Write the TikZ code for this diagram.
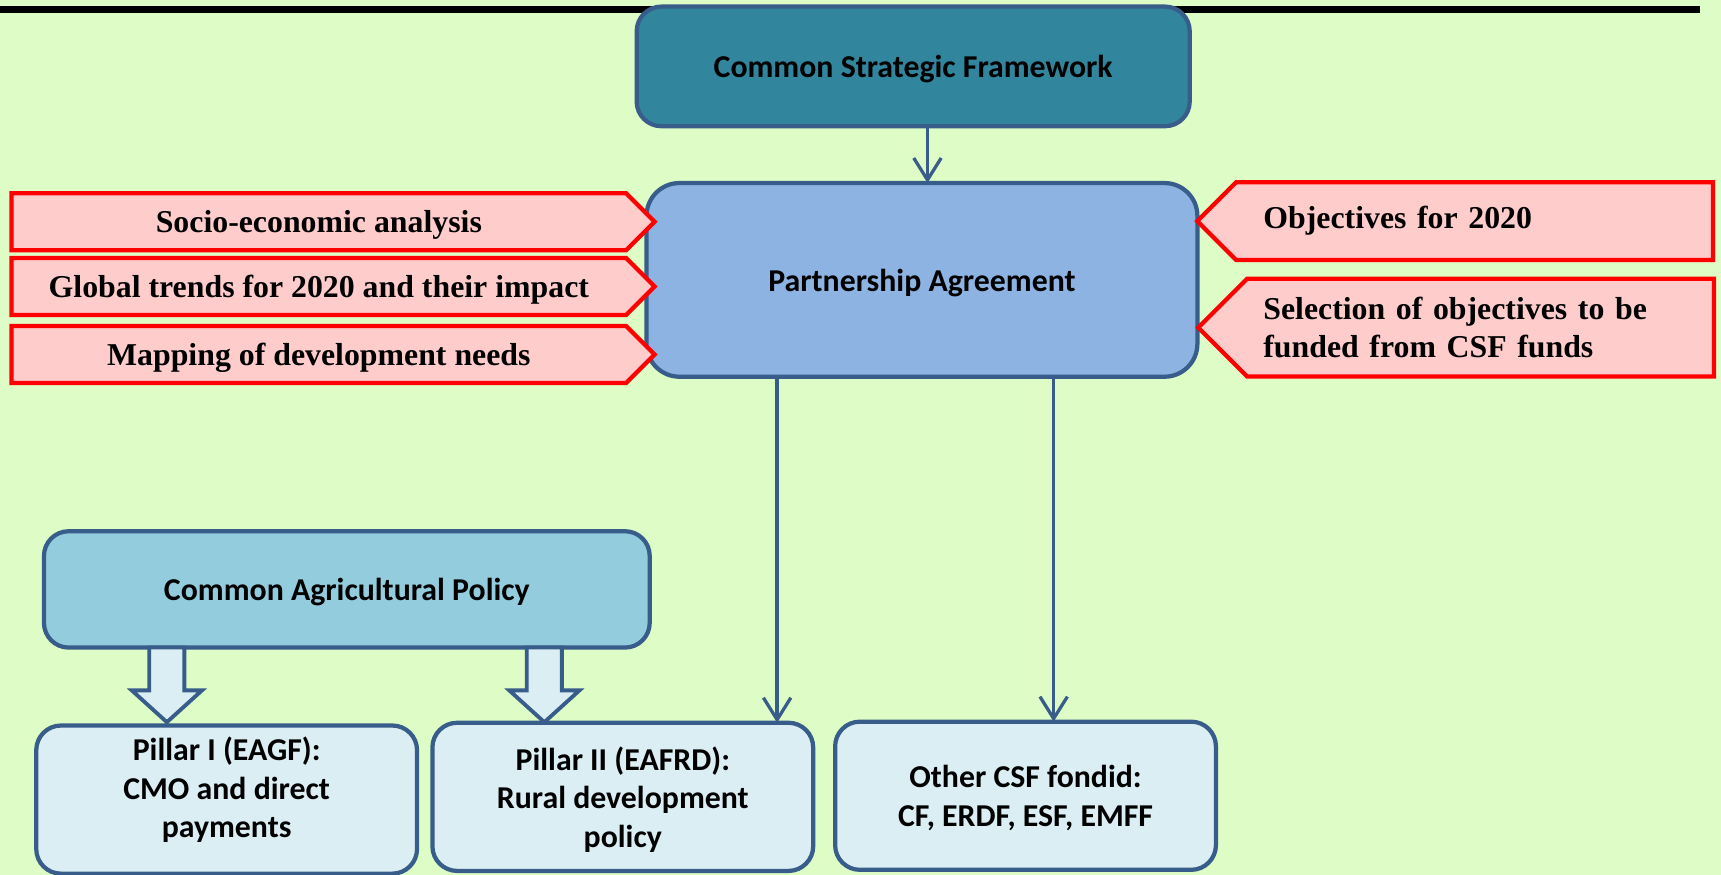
\documentclass[tikz,border=0pt]{standalone}
\usepackage{fontspec}
\setmainfont{Liberation Serif}
\newfontfamily\calfont{Carlito}
\usetikzlibrary{positioning,shapes.symbols,arrows.meta,calc}

\definecolor{bgGreen}{RGB}{222,253,198}
\definecolor{boxBlue}{RGB}{56,93,138}
\definecolor{csfTeal}{RGB}{49,133,156}
\definecolor{paBlue}{RGB}{141,179,226}
\definecolor{capBlue}{RGB}{147,205,221}
\definecolor{pillarBlue}{RGB}{219,238,244}
\definecolor{pinkFill}{RGB}{255,204,204}

\begin{document}
\begin{tikzpicture}[
    x=0.02cm, y=-0.02cm,
    box/.style={draw=boxBlue, line width=2.2pt, rounded corners=0.45cm, outer sep=0pt, text depth=0pt,
        align=center, font=\calfont\bfseries\fontsize{16.5}{20}\selectfont},
    pillar/.style={box, fill=pillarBlue, minimum width=6.94cm, minimum height=2.7cm},
    pinkbase/.style={draw=red, fill=pinkFill, line width=2.2pt, shape=signal,
        signal pointer angle=90, outer sep=0pt, minimum height=1.04cm,
        font=\bfseries\fontsize{16.5}{20}\selectfont},
    pinkleft/.style={pinkbase, signal to=east, text depth=0pt},
    pinkright/.style={pinkbase, signal to=west, align=left},
    arrow/.style={-{Straight Barb[length=0.4cm,width=0.5cm]}, line width=1.7pt, draw=boxBlue},
    fatarrow/.style={draw=boxBlue, fill=pillarBlue, line width=2pt, line join=miter}
]
    % Background and top rule
    \fill[bgGreen] (0,0) rectangle (1568,797);
    \useasboundingbox (0,0) rectangle (1568,797);
    \draw[line width=3.7pt] (0,9) -- (1549,9);

    % Blocks
    \node[box, fill=csfTeal, minimum width=10.08cm, minimum height=2.18cm] (csf) at (832,60.5) {Common Strategic Framework};
    \node[box, fill=paBlue, rounded corners=0.6cm, minimum width=10.04cm, minimum height=3.53cm] (pa) at (840,255) {Partnership Agreement};
    \node[box, fill=capBlue, minimum width=11.04cm, minimum height=2.12cm] (cap) at (316,537) {Common Agricultural Policy};
    \node[pillar, text depth=0.44cm] (pillar1) at (206.5,728.5) {Pillar I (EAGF):\\CMO and direct\\payments};
    \node[pillar, right=0.28cm of pillar1, yshift=0.05cm] (pillar2) {Pillar II (EAFRD):\\Rural development\\policy};
    \node[pillar, right=0.4cm of pillar2, yshift=0.02cm] (otherfunds) {Other CSF fondid:\\CF, ERDF, ESF, EMFF};

    % Inputs to the agreement
    \node[pinkleft, minimum width=11.72cm] (socio) at (290.5,202) {Socio-economic analysis};
    \node[pinkleft, minimum width=11.72cm, below=0.14cm of socio] (trends) {Global trends for 2020 and their impact};
    \node[pinkleft, minimum width=11.72cm, below=0.2cm of trends] (needs) {Mapping of development needs};
    \node[pinkright, minimum width=9.4cm, minimum height=1.42cm, text width=7.7cm] (goals) at (1343.5,201.5) {Objectives for 2020};
    \node[pinkright, minimum width=9.4cm, minimum height=1.78cm, text width=7.92cm] (selection) at (1349,298.5) {Selection of objectives to be\\funded from CSF funds};

    % Arrows
    \draw[arrow] ([xshift=0.1cm]pa.north |- csf.south) -- ([xshift=0.1cm]pa.north);
    \draw[arrow] ([xshift=-2.64cm]pa.south) -- ([xshift=-2.64cm]pa.south |- pillar2.north);
    \draw[arrow] ([xshift=2.4cm]pa.south) -- ([xshift=2.4cm]pa.south |- otherfunds.north);

    % Pillar arrows
    \coordinate (cap1) at ([xshift=-3.28cm]cap.south);
    \coordinate (cap2) at ([xshift=3.6cm]cap.south);
    \foreach \c in {cap1,cap2}
        \draw[fatarrow] ([xshift=-0.32cm]\c) -- ++(0,-0.78cm) -- ++(-0.32cm,0) -- ([yshift=-1.36cm]\c)
            -- ++(0.64cm,0.58cm) -- ++(-0.32cm,0) -- ([xshift=0.32cm]\c) -- cycle;
\end{tikzpicture}
\end{document}
